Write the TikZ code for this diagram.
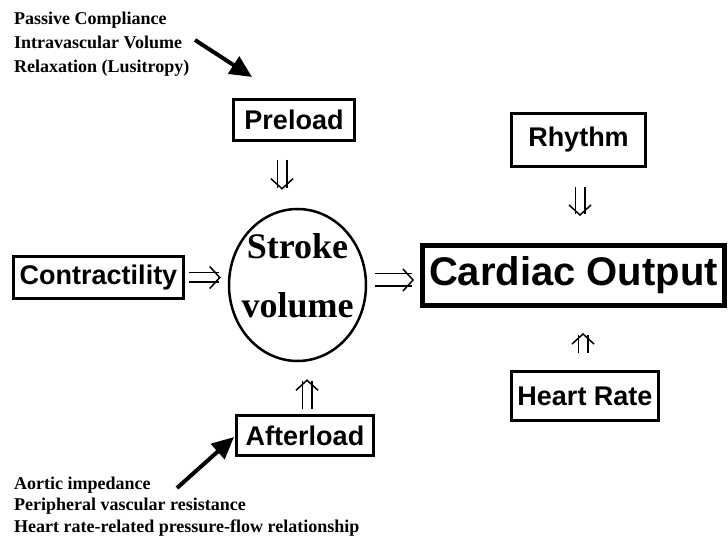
\documentclass[tikz,border=0pt]{standalone}
\usepackage{fontspec}
\setmainfont{Liberation Serif}
\setsansfont{Liberation Sans}
\usetikzlibrary{arrows.meta, positioning, calc, shapes.geometric}

\tikzset{
  factor/.style={draw, line width=3pt, inner sep=0pt, font=\sffamily\bfseries\fontsize{27}{30}\selectfont},
  imp/.style={double, double distance=8pt, line width=1.5pt, -{Straight Barb[length=10pt, width=22pt, line width=1.5pt]}},
  influence/.style={line width=4pt, -{Triangle[length=22pt, width=20pt]}},
  notes/.style={align=left, inner sep=0pt, anchor=north west, font=\bfseries}
}

\begin{document}
\begin{tikzpicture}[x=1pt, y=-1pt]
        \useasboundingbox (0,0) rectangle (728,537);

        % Determinants of stroke volume
        \node[factor, minimum width=121pt, minimum height=41pt] (preload) at (294,120) {Preload};
        \node[factor, minimum width=170pt, minimum height=42pt] (contr) at (98.5,277.5) {Contractility};
        \node[factor, minimum width=137pt, minimum height=40pt] (afterload) at (305,435.5) {Afterload};

        % Stroke volume
        \node[draw, ellipse, line width=2.5pt, minimum width=137pt, minimum height=152pt] (sv) at (297.5,285) {};
        \node[align=center, inner sep=0pt, font=\bfseries\fontsize{36}{59}\selectfont] (svlabel) at (297.5,275.5) {Stroke\\volume};

        % Cardiac output and its other determinants
        \node[factor, line width=5pt, minimum width=302pt, minimum height=60pt, font=\sffamily\bfseries\fontsize{40}{44}\selectfont] (co) at (573.5,275.5) {Cardiac Output};
        \node[factor, minimum width=134pt, minimum height=53pt] (rhythm) at (578.5,140) {Rhythm};
        \node[factor, minimum width=147pt, minimum height=49pt] (hr) at (585,396) {Heart Rate};

        % Double arrows
        \draw[imp, shorten <=18pt, shorten >=18pt] ([xshift=-12pt]preload.south) -- ([xshift=-12pt]preload.south |- sv.north);
        \draw[imp, shorten <=4pt, shorten >=7pt] (contr.east) -- (contr.east -| sv.west);
        \draw[imp, shorten <=5pt, shorten >=17pt] ([xshift=2pt]afterload.north) -- ([xshift=2pt]afterload.north |- sv.south);
        \draw[imp, double distance=11pt, shorten <=8pt, shorten >=6pt] ([yshift=5pt]sv.east) -- ([yshift=5pt]sv.east -| co.west);
        \draw[imp, shorten <=19pt, shorten >=27pt] ([xshift=1.5pt]rhythm.south) -- ([xshift=1.5pt]rhythm.south |- co.north);
        \draw[imp, shorten <=17pt, shorten >=25pt] ([xshift=-2pt]hr.north) -- ([xshift=-2pt]hr.north |- co.south);

        % Notes on preload and afterload
        \node[notes, font=\bfseries\fontsize{18}{24}\selectfont] (prenotes) at (14,11.5) {Passive Compliance\\Intravascular Volume\\Relaxation (Lusitropy)};
        \node[notes, font=\bfseries\fontsize{18}{21.5}\selectfont] (afternotes) at (14,476.5) {Aortic impedance\\Peripheral vascular resistance\\Heart rate-related pressure-flow relationship};
        \coordinate (prestart) at (195,40);
        \coordinate (preend) at (252,77);
        \coordinate (afterstart) at (177,488);
        \coordinate (afterend) at (234,437);
        \draw[influence] (prestart) -- (preend);
        \draw[influence] (afterstart) -- (afterend);
    \end{tikzpicture}
\end{document}
